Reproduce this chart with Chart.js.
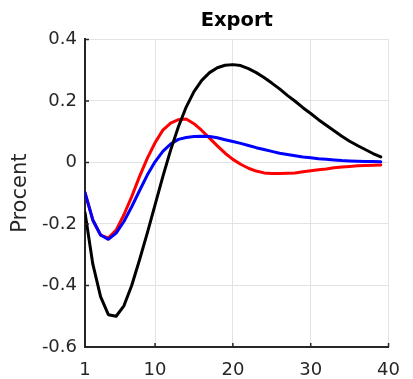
<!DOCTYPE html>
<html>
<head>
<meta charset="utf-8">
<script src="https://cdn.jsdelivr.net/npm/chart.js@4/dist/chart.umd.min.js"></script>
<style>
  html, body { margin: 0; padding: 0; background: #ffffff; }
  #c { display: block; }
</style>
</head>
<body>
<canvas id="c" width="413" height="379"></canvas>
<script>
// ---- data ----
const periods = [1,2,3,4,5,6,7,8,9,10,11,12,13,14,15,16,17,18,19,20,21,22,23,24,25,26,27,28,29,30,31,32,33,34,35,36,37,38,39];
const blackSeries = [-0.163,-0.330,-0.436,-0.495,-0.500,-0.466,-0.400,-0.317,-0.230,-0.138,-0.046,0.040,0.116,0.180,0.230,0.267,0.292,0.308,0.316,0.318,0.315,0.305,0.292,0.276,0.258,0.239,0.218,0.199,0.178,0.159,0.139,0.121,0.103,0.085,0.069,0.055,0.042,0.029,0.018];
const blueSeries = [-0.098,-0.187,-0.236,-0.250,-0.230,-0.192,-0.144,-0.092,-0.041,0.002,0.036,0.060,0.075,0.081,0.084,0.085,0.084,0.080,0.074,0.068,0.062,0.055,0.048,0.042,0.036,0.030,0.026,0.022,0.018,0.015,0.012,0.010,0.008,0.006,0.005,0.004,0.003,0.003,0.002];
const redSeries = [-0.098,-0.187,-0.236,-0.246,-0.220,-0.170,-0.111,-0.046,0.013,0.064,0.105,0.128,0.139,0.141,0.126,0.104,0.079,0.054,0.030,0.010,-0.006,-0.019,-0.028,-0.034,-0.036,-0.036,-0.035,-0.034,-0.030,-0.027,-0.024,-0.021,-0.017,-0.015,-0.013,-0.011,-0.010,-0.009,-0.008];
const xTickValues = [1,10,20,30,40];
const yTickValues = [-0.6,-0.4,-0.2,0,0.2,0.4];
const titleText = 'Export';
const yLabelText = 'Procent';

const FONT = "'DejaVu Sans', 'Liberation Sans', Arial, sans-serif";
const AXIS_COLOR = '#262626';
const GRID_COLOR = '#e3e3e3';

function pts(arr) { return periods.map((p, i) => ({ x: p, y: arr[i] })); }

const innerTicks = {
  id: 'innerTicks',
  afterDatasetsDraw(chart) {
    const { ctx, chartArea, scales } = chart;
    ctx.save();
    ctx.strokeStyle = AXIS_COLOR;
    ctx.lineWidth = 1.5;
    ctx.beginPath();
    xTickValues.forEach(v => {
      const px = scales.x.getPixelForValue(v);
      ctx.moveTo(px, chartArea.bottom);
      ctx.lineTo(px, chartArea.bottom - 4);
    });
    yTickValues.forEach(v => {
      const py = scales.y.getPixelForValue(v);
      ctx.moveTo(chartArea.left, py);
      ctx.lineTo(chartArea.left + 4, py);
    });
    ctx.stroke();
    ctx.restore();
  }
};

new Chart(document.getElementById('c'), {
  type: 'line',
  data: {
    datasets: [
      { label: 'black', data: pts(blackSeries), borderColor: '#000000', backgroundColor: '#000000' },
      { label: 'blue', data: pts(blueSeries), borderColor: '#0000ff', backgroundColor: '#0000ff' },
      { label: 'red', data: pts(redSeries), borderColor: '#ff0000', backgroundColor: '#ff0000' }
    ]
  },
  plugins: [innerTicks],
  options: {
    responsive: false,
    devicePixelRatio: 1,
    animation: false,
    layout: { padding: { left: 0, right: 14, top: 0, bottom: 0 } },
    elements: {
      point: { radius: 0 },
      line: { borderWidth: 3, tension: 0, borderCapStyle: 'round', borderJoinStyle: 'round' }
    },
    plugins: {
      legend: { display: false },
      tooltip: { enabled: false },
      title: {
        display: true,
        text: titleText,
        fullSize: false,
        color: '#000000',
        font: { family: FONT, size: 19.5, weight: 'bold', lineHeight: 1.2 },
        padding: { top: 9, bottom: 7 }
      }
    },
    scales: {
      x: {
        type: 'linear',
        min: 1,
        max: 40,
        afterBuildTicks(scale) { scale.ticks = xTickValues.map(v => ({ value: v })); },
        afterFit(scale) { scale.height = 32; },
        ticks: {
          color: AXIS_COLOR,
          font: { family: FONT, size: 18 },
          padding: 13,
          maxRotation: 0,
          autoSkip: false,
          callback: v => String(v)
        },
        grid: { color: GRID_COLOR, lineWidth: 1, drawTicks: false },
        border: { color: AXIS_COLOR, width: 2 }
      },
      y: {
        type: 'linear',
        min: -0.6,
        max: 0.4,
        afterBuildTicks(scale) { scale.ticks = yTickValues.map(v => ({ value: v })); },
        afterFit(scale) { scale.width = 85; },
        ticks: {
          color: AXIS_COLOR,
          font: { family: FONT, size: 18 },
          padding: 8,
          autoSkip: false,
          callback: v => {
            const r = Math.round(v * 10) / 10;
            return r === 0 ? '0' : r.toFixed(1);
          }
        },
        title: {
          display: true,
          text: yLabelText,
          color: AXIS_COLOR,
          font: { family: FONT, size: 21, lineHeight: 1.2 },
          padding: { top: 8, bottom: 0 }
        },
        grid: { color: GRID_COLOR, lineWidth: 1, drawTicks: false },
        border: { color: AXIS_COLOR, width: 2 }
      }
    }
  }
});
</script>
</body>
</html>
